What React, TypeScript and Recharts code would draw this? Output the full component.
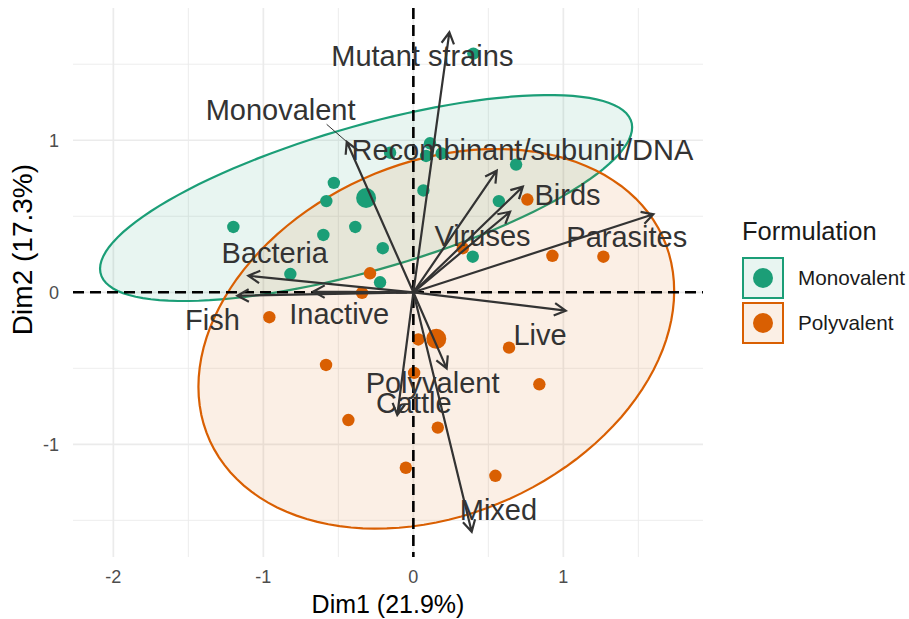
import React from "react";
import { CartesianGrid, Legend, Scatter, ScatterChart, XAxis, YAxis } from "recharts";

const GREEN = "#1b9e77";
const ORANGE = "#d95f02";
const INK = "#333333";
const GRID = "#ebebeb";
const FONT = '"Liberation Sans", Arial, Helvetica, sans-serif';

const X_DOMAIN: [number, number] = [-2.269, 1.931];
const Y_DOMAIN: [number, number] = [-1.741, 1.87];
const X_TICKS = [-2, -1, 0, 1];
const Y_TICKS = [-1, 0, 1];
const X_MINOR = [-1.5, -0.5, 0.5, 1.5];
const Y_MINOR = [-1.5, -0.5, 0.5, 1.5];

// individuals (Dim1, Dim2)
const monovalentPoints = [
  { x: -1.2, y: 0.43 },
  { x: -0.53, y: 0.72 },
  { x: -0.58, y: 0.6 },
  { x: -0.387, y: 0.43 },
  { x: -0.6, y: 0.377 },
  { x: -0.204, y: 0.29 },
  { x: -0.82, y: 0.12 },
  { x: -0.222, y: 0.066 },
  { x: -0.155, y: 0.918 },
  { x: 0.067, y: 0.67 },
  { x: 0.111, y: 0.98 },
  { x: 0.085, y: 0.897 },
  { x: 0.189, y: 0.914 },
  { x: 0.685, y: 0.84 },
  { x: 0.57, y: 0.6 },
  { x: 0.396, y: 0.234 },
  { x: 0.4, y: 1.57 },
];

const polyvalentPoints = [
  { x: -0.96, y: -0.164 },
  { x: -0.342, y: -0.003 },
  { x: -0.289, y: 0.125 },
  { x: -0.582, y: -0.478 },
  { x: -0.433, y: -0.84 },
  { x: -0.05, y: -1.154 },
  { x: 0.033, y: -0.31 },
  { x: 0.005, y: -0.53 },
  { x: 0.163, y: -0.89 },
  { x: 0.638, y: -0.364 },
  { x: 0.84, y: -0.605 },
  { x: 0.547, y: -1.207 },
  { x: 0.76, y: 0.61 },
  { x: 0.33, y: 0.29 },
  { x: 0.927, y: 0.24 },
  { x: 1.267, y: 0.234 },
];

const monovalentMean = [{ x: -0.315, y: 0.62 }];
const polyvalentMean = [{ x: 0.153, y: -0.306 }];

// concentration ellipses: centre + covariance-like shape
const ellipses = [
  { name: "Monovalent", color: GREEN, cx: -0.315, cy: 0.62, sxx: 3.146, syy: 0.459, sxy: 0.825 },
  { name: "Polyvalent", color: ORANGE, cx: 0.153, cy: -0.306, sxx: 2.515, syy: 1.559, sxy: 0.5 },
];

// variable arrows (tips)
const variables = [
  { name: "Mutant strains", x: 0.24, y: 1.71 },
  { name: "Monovalent", x: -0.444, y: 0.99 },
  { name: "Recombinant/subunit/DNA", x: 0.556, y: 0.8 },
  { name: "Birds", x: 0.73, y: 0.695 },
  { name: "Viruses", x: 0.645, y: 0.53 },
  { name: "Parasites", x: 1.6, y: 0.513 },
  { name: "Bacteria", x: -1.1, y: 0.109 },
  { name: "Fish", x: -1.173, y: -0.022 },
  { name: "Inactive", x: -0.667, y: 0.005 },
  { name: "Live", x: 1.016, y: -0.121 },
  { name: "Polyvalent", x: 0.222, y: -0.5 },
  { name: "Cattle", x: -0.107, y: -0.807 },
  { name: "Mixed", x: 0.389, y: -1.575 },
];

// repelled label positions
const labels = [
  { name: "Mutant strains", x: 0.06, y: 1.555 },
  { name: "Monovalent", x: -0.885, y: 1.197 },
  { name: "Recombinant/subunit/DNA", x: 0.727, y: 0.936 },
  { name: "Birds", x: 1.028, y: 0.639 },
  { name: "Viruses", x: 0.461, y: 0.372 },
  { name: "Parasites", x: 1.423, y: 0.366 },
  { name: "Bacteria", x: -0.924, y: 0.257 },
  { name: "Fish", x: -1.339, y: -0.18 },
  { name: "Inactive", x: -0.494, y: -0.144 },
  { name: "Live", x: 0.845, y: -0.278 },
  { name: "Polyvalent", x: 0.128, y: -0.595 },
  { name: "Cattle", x: 0.003, y: -0.725 },
  { name: "Mixed", x: 0.567, y: -1.432 },
];

const monovalentSegment = [
  { x: -0.578, y: 1.105 },
  { x: -0.444, y: 0.99 },
];

const legendItems = [
  { name: "Monovalent", color: GREEN },
  { name: "Polyvalent", color: ORANGE },
];

function ellipseOutline(e: (typeof ellipses)[number]) {
  const l11 = Math.sqrt(e.sxx);
  const l21 = e.sxy / l11;
  const l22 = Math.sqrt(e.syy - l21 * l21);
  const pts = [];
  for (let i = 0; i <= 120; i++) {
    const t = (2 * Math.PI * i) / 120;
    pts.push({ x: e.cx + l11 * Math.cos(t), y: e.cy + l21 * Math.cos(t) + l22 * Math.sin(t) });
  }
  return pts;
}

const Blank = () => <g />;

const dot = (r: number, fill: string) => (p: any) => <circle cx={p.cx} cy={p.cy} r={r} fill={fill} />;

function ArrowLine(p: any) {
  const [a, b] = p.points;
  const ang = Math.atan2(b.y - a.y, b.x - a.x);
  const len = 13;
  const spread = 0.5;
  const h1x = b.x - len * Math.cos(ang - spread);
  const h1y = b.y - len * Math.sin(ang - spread);
  const h2x = b.x - len * Math.cos(ang + spread);
  const h2y = b.y - len * Math.sin(ang + spread);
  return (
    <path
      d={`M${a.x},${a.y}L${b.x},${b.y}M${h1x},${h1y}L${b.x},${b.y}L${h2x},${h2y}`}
      stroke={INK}
      strokeWidth={2.2}
      fill="none"
    />
  );
}

function FormulationLegend() {
  return (
    <div style={{ fontFamily: FONT, color: "#1a1a1a" }}>
      <div style={{ fontSize: 25.5, lineHeight: "28px", height: 28, whiteSpace: "nowrap" }}>Formulation</div>
      <div style={{ marginTop: 12 }}>
        {legendItems.map((it) => (
          <div key={it.name} style={{ display: "flex", alignItems: "center", height: 42, marginBottom: 3 }}>
            <div
              style={{
                width: 42,
                height: 42,
                boxSizing: "border-box",
                border: `2px solid ${it.color}`,
                background: `${it.color}1a`,
                display: "flex",
                alignItems: "center",
                justifyContent: "center",
              }}
            >
              <div style={{ width: 20, height: 20, borderRadius: "50%", background: it.color }} />
            </div>
            <span style={{ marginLeft: 14, fontSize: 20.7, whiteSpace: "nowrap" }}>{it.name}</span>
          </div>
        ))}
      </div>
    </div>
  );
}

export default function App() {
  return (
    <div style={{ position: "absolute", left: 0, top: 0, fontFamily: FONT, background: "#fff" }}>
      <ScatterChart width={909} height={619} margin={{ top: 8, right: 206, bottom: 0, left: 0 }}>
        <CartesianGrid stroke={GRID} strokeWidth={0.9} verticalValues={X_MINOR} horizontalValues={Y_MINOR} />
        <CartesianGrid stroke={GRID} strokeWidth={1.7} verticalValues={X_TICKS} horizontalValues={Y_TICKS} />
        <XAxis
          type="number"
          dataKey="x"
          domain={X_DOMAIN}
          ticks={X_TICKS}
          allowDataOverflow
          axisLine={false}
          tickLine={false}
          tickSize={0}
          tickMargin={13}
          height={62}
          tick={{ fill: "#4d4d4d", fontSize: 18 }}
          label={{ value: "Dim1 (21.9%)", position: "insideBottom", offset: 6, fill: "#000", fontSize: 25 }}
        />
        <YAxis
          type="number"
          dataKey="y"
          domain={Y_DOMAIN}
          ticks={Y_TICKS}
          allowDataOverflow
          axisLine={false}
          tickLine={false}
          tickSize={0}
          tickMargin={14}
          width={73}
          tick={{ fill: "#4d4d4d", fontSize: 18 }}
          label={{
            content: ({ viewBox }: any) => {
              const x = viewBox.x + 32;
              const y = viewBox.y + viewBox.height * 0.44;
              return (
                <text x={x} y={y} transform={`rotate(-90, ${x}, ${y})`} textAnchor="middle" fill="#000" fontSize={28}>
                  Dim2 (17.3%)
                </text>
              );
            },
          }}
        />

        {ellipses.map((e) => (
          <Scatter
            key={`ell-${e.name}`}
            data={ellipseOutline(e)}
            shape={Blank}
            isAnimationActive={false}
            line={(p: any) => (
              <path
                d={p.points.map((q: any, i: number) => `${i ? "L" : "M"}${q.x},${q.y}`).join("") + "Z"}
                fill={e.color}
                fillOpacity={0.1}
                stroke={e.color}
                strokeWidth={2.2}
              />
            )}
          />
        ))}

        <Scatter data={monovalentPoints} shape={dot(6.2, GREEN)} isAnimationActive={false} />
        <Scatter data={polyvalentPoints} shape={dot(6.2, ORANGE)} isAnimationActive={false} />
        <Scatter data={monovalentMean} shape={dot(10, GREEN)} isAnimationActive={false} />
        <Scatter data={polyvalentMean} shape={dot(10, ORANGE)} isAnimationActive={false} />

        <Scatter
          data={[
            { x: X_DOMAIN[0], y: 0 },
            { x: X_DOMAIN[1], y: 0 },
          ]}
          shape={Blank}
          isAnimationActive={false}
          line={{ stroke: "#000", strokeWidth: 2.6, strokeDasharray: "11 6" }}
        />
        <Scatter
          data={[
            { x: 0, y: Y_DOMAIN[1] },
            { x: 0, y: Y_DOMAIN[0] },
          ]}
          shape={Blank}
          isAnimationActive={false}
          line={{ stroke: "#000", strokeWidth: 2.6, strokeDasharray: "11 6" }}
        />

        {variables.map((v) => (
          <Scatter
            key={`arrow-${v.name}`}
            data={[
              { x: 0, y: 0 },
              { x: v.x, y: v.y },
            ]}
            shape={Blank}
            line={ArrowLine}
            isAnimationActive={false}
          />
        ))}

        <Scatter
          data={monovalentSegment}
          shape={Blank}
          isAnimationActive={false}
          line={{ stroke: INK, strokeWidth: 1 }}
        />

        <Scatter
          data={labels}
          isAnimationActive={false}
          shape={(p: any) => (
            <text x={p.cx} y={p.cy} dy="0.35em" textAnchor="middle" fontSize={29} fill={INK}>
              {p.payload.name}
            </text>
          )}
        />

        <Legend
          layout="horizontal"
          verticalAlign="middle"
          align="center"
          wrapperStyle={{ left: 742, top: 217, width: 167, height: 140 }}
          content={FormulationLegend}
        />
      </ScatterChart>
    </div>
  );
}
